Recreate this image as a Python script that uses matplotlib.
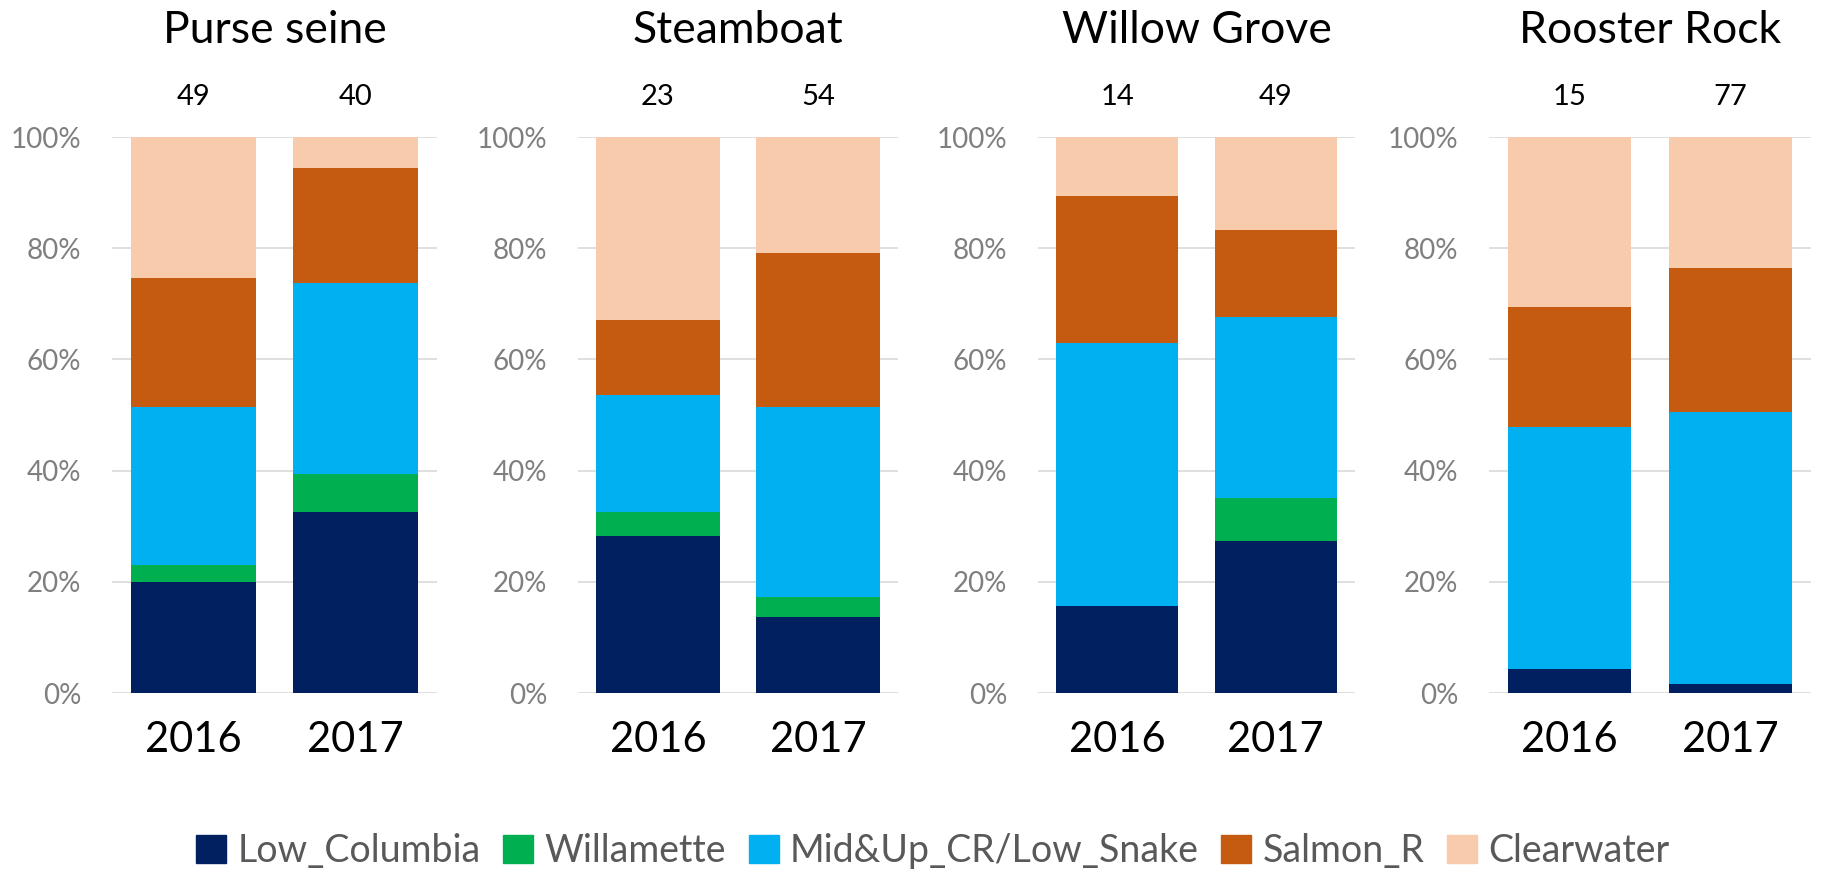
import matplotlib
matplotlib.use("Agg")
import matplotlib.pyplot as plt
from matplotlib.ticker import PercentFormatter
import matplotlib.patches as mpatches

plt.rcParams["font.family"] = ["Lato", "DejaVu Sans"]

sites = ["Purse seine", "Steamboat", "Willow Grove", "Rooster Rock"]
years = ["2016", "2017"]
sample_sizes = [[49, 40], [23, 54], [14, 49], [15, 77]]

groups = ["Low_Columbia", "Willamette", "Mid&Up_CR/Low_Snake", "Salmon_R", "Clearwater"]
group_colors = ["#002060", "#00B050", "#00B0F0", "#C55A11", "#F8CBAD"]

# percent of fish assigned to each stock, per site as [2016, 2017]
low_columbia = [[20.0, 32.6], [28.2, 13.6], [15.7, 27.3], [4.4, 1.7]]
willamette = [[3.0, 6.8], [4.3, 3.6], [0.0, 7.8], [0.0, 0.0]]
mid_up_snake = [[28.4, 34.3], [21.1, 34.3], [47.2, 32.5], [43.5, 48.8]]
salmon_r = [[23.2, 20.8], [13.4, 27.7], [26.5, 15.6], [21.6, 26.0]]
clearwater = [[25.4, 5.5], [33.0, 20.8], [10.6, 16.8], [30.5, 23.5]]

stock_series = [low_columbia, willamette, mid_up_snake, salmon_r, clearwater]

W, H = 1821, 872
fig = plt.figure(figsize=(W / 100, H / 100), dpi=100)

# panel boxes in pixels: left, width
panel_x = [(112, 325), (578, 320), (1038, 317), (1489, 322)]
top_px, bottom_px = 137, 693

for i, site in enumerate(sites):
    left, width = panel_x[i]
    ax = fig.add_axes([left / W, 1 - bottom_px / H, width / W, (bottom_px - top_px) / H])

    x = [0, 1]
    bottom = [0.0, 0.0]
    for series, color in zip(stock_series, group_colors):
        vals = series[i]
        ax.bar(x, vals, width=0.77, bottom=bottom, color=color, zorder=2)
        bottom = [b + v for b, v in zip(bottom, vals)]

    ax.set_xlim(-0.5, 1.5)
    ax.set_ylim(0, 100)
    ax.set_yticks(range(0, 101, 20))
    ax.yaxis.set_major_formatter(PercentFormatter(decimals=0))
    ax.grid(axis="y", color="#D9D9D9", linewidth=1.2, zorder=0)
    for s in ax.spines.values():
        s.set_visible(False)
    ax.tick_params(axis="y", length=0, pad=22, labelsize=20, labelcolor="#7F7F7F")
    ax.set_xticks(x, years)
    ax.tick_params(axis="x", length=0, pad=20, labelsize=30)

    ax.text(0.5, 1.192, site, transform=ax.transAxes, ha="center", va="center", fontsize=32)
    for xi, n in zip(x, sample_sizes[i]):
        ax.text(xi, 1.072, str(n), transform=ax.get_xaxis_transform(),
                ha="center", va="center", fontsize=21)

handles = [mpatches.Patch(color=c, label=g) for g, c in zip(groups, group_colors)]
fig.legend(handles=handles, loc="center", bbox_to_anchor=(933 / W, 1 - 851 / H),
           ncol=5, frameon=False, fontsize=27, handlelength=0.8, handleheight=0.8,
           handletextpad=0.3, columnspacing=0.6, labelcolor="#595959")

fig.savefig("out.png", dpi=100)
